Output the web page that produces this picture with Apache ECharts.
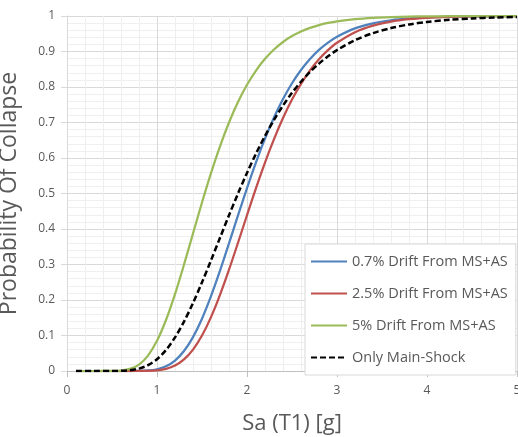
<!DOCTYPE html>
<html>
<head>
<meta charset="utf-8">
<script src="https://cdn.jsdelivr.net/npm/echarts@6/dist/echarts.min.js"></script>
<style>
html,body{margin:0;padding:0;background:#fff;}
#c{width:518px;height:437px;}
</style>
</head>
<body>
<div id="c"></div>
<script>
const sa = [0.1, 0.3, 0.5, 0.6, 0.7, 0.8, 0.9, 1.0, 1.1, 1.2, 1.3, 1.4, 1.5, 1.6, 1.7, 1.8, 1.9, 2.0, 2.1, 2.2, 2.3, 2.4, 2.5, 2.6, 2.7, 2.8, 2.9, 3.0, 3.2, 3.4, 3.6, 3.8, 4.0, 4.25, 4.5, 4.75, 5.0];
const drift07 = [0, 0, 0, 0, 0, 0.0003, 0.0015, 0.005, 0.0133, 0.0294, 0.0562, 0.0955, 0.1474, 0.2107, 0.2825, 0.3596, 0.4382, 0.515, 0.5878, 0.6547, 0.714, 0.766, 0.8106, 0.848, 0.879, 0.9045, 0.925, 0.9416, 0.965, 0.9793, 0.988, 0.993, 0.996, 0.998, 0.999, 0.9995, 0.9998];
const drift25 = [0, 0, 0, 0, 0, 0.0001, 0.0005, 0.002, 0.0062, 0.0155, 0.0327, 0.0603, 0.0999, 0.1517, 0.2144, 0.2853, 0.3613, 0.4388, 0.515, 0.587, 0.653, 0.7126, 0.7646, 0.809, 0.847, 0.878, 0.9037, 0.9245, 0.9544, 0.973, 0.9843, 0.991, 0.9948, 0.9974, 0.9988, 0.9994, 0.9997];
const drift5 = [0, 0, 0.0002, 0.0013, 0.0058, 0.0182, 0.0435, 0.085, 0.1436, 0.2165, 0.2996, 0.3873, 0.4745, 0.5573, 0.633, 0.70, 0.7576, 0.8062, 0.8464, 0.8793, 0.9057, 0.9268, 0.9434, 0.9564, 0.9666, 0.9744, 0.9804, 0.9851, 0.9913, 0.995, 0.9971, 0.9983, 0.999, 0.9995, 0.9998, 0.9999, 1.0];
const mainShock = [0, 0, 0.0001, 0.0005, 0.0022, 0.0067, 0.0164, 0.0333, 0.0592, 0.0946, 0.1392, 0.1915, 0.2497, 0.3117, 0.3752, 0.4386, 0.5, 0.558, 0.6124, 0.6623, 0.7074, 0.7477, 0.7835, 0.8149, 0.8423, 0.866, 0.8865, 0.904, 0.9318, 0.9518, 0.966, 0.9762, 0.9833, 0.9893, 0.9931, 0.9956, 0.9971];
const seriesNames = ['0.7% Drift From MS+AS', '2.5% Drift From MS+AS', '5% Drift From MS+AS', 'Only Main-Shock'];
const seriesValues = [drift07, drift25, drift5, mainShock];
const colors = ['#4f81bd', '#c0504d', '#9bbb59', '#000000'];

const FONT = '"Open Sans", "Liberation Sans", sans-serif';
const chart = echarts.init(document.getElementById('c'), null, {renderer: 'canvas'});
const series = seriesNames.map((name, i) => ({
  name: name,
  type: 'line',
  data: sa.map((x, j) => [x, seriesValues[i][j]]),
  smooth: 0.3,
  symbol: 'none',
  showSymbol: false,
  z: i === 3 ? 5 : 3,
  lineStyle: {
    color: colors[i],
    width: i === 3 ? 2.5 : 2.25,
    type: i === 3 ? [6, 3] : 'solid'
  },
  itemStyle: {color: colors[i]}
}));
chart.setOption({
  animation: false,
  backgroundColor: '#fff',
  textStyle: {fontFamily: FONT},
  grid: {left: 67, right: 1, top: 16, bottom: 66, containLabel: false, outerBoundsMode: 'none'},
  legend: {
    orient: 'vertical',
    left: 305,
    top: 244,
    padding: [10, 8, 10, 5],
    itemWidth: 36,
    itemHeight: 14,
    itemGap: 17,
    itemStyle: {opacity: 0},
    backgroundColor: '#fff',
    borderColor: '#d9d9d9',
    borderWidth: 1,
    textStyle: {color: '#595959', fontSize: 14.5, fontFamily: FONT},
    data: seriesNames
  },
  xAxis: {
    type: 'value',
    min: 0, max: 5, interval: 1,
    name: 'Sa (T1) [g]',
    nameLocation: 'middle',
    nameGap: 42,
    nameTextStyle: {color: '#595959', fontSize: 22, fontFamily: FONT},
    axisLine: {show: true, lineStyle: {color: '#bfbfbf', width: 1}},
    axisTick: {show: true, length: 6, lineStyle: {color: '#bfbfbf'}},
    axisLabel: {color: '#595959', fontSize: 12, margin: 14, fontFamily: FONT},
    splitLine: {show: true, lineStyle: {color: '#d9d9d9', width: 1}},
    minorTick: {show: false, splitNumber: 5},
    minorSplitLine: {show: true, lineStyle: {color: '#efefef', width: 1}}
  },
  yAxis: {
    type: 'value',
    min: 0, max: 1, interval: 0.1,
    name: 'Probability Of Collapse',
    nameLocation: 'middle',
    nameGap: 46,
    nameTextStyle: {color: '#595959', fontSize: 23, fontFamily: FONT},
    axisLine: {show: true, lineStyle: {color: '#d9d9d9', width: 1}},
    axisTick: {show: true, length: 6, lineStyle: {color: '#d9d9d9'}},
    axisLabel: {color: '#595959', fontSize: 12, margin: 12, fontFamily: FONT},
    splitLine: {show: true, lineStyle: {color: '#d9d9d9', width: 1}},
    minorTick: {show: false, splitNumber: 5},
    minorSplitLine: {show: true, lineStyle: {color: '#efefef', width: 1}}
  },
  series: series
});
</script>
</body>
</html>
